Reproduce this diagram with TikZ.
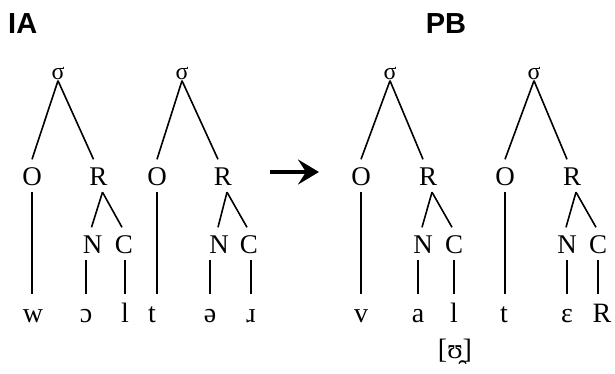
\documentclass[tikz,border=0pt]{standalone}
\usepackage{fontspec}
\setmainfont{Liberation Serif}
\newfontfamily\headfont{Liberation Sans}
\usetikzlibrary{arrows.meta}
\begin{document}
\begin{tikzpicture}[x=1pt,y=-1pt,
 inode/.style={inner xsep=1pt, inner ysep=7pt, text height=18.5pt, text depth=0pt, font=\fontsize{27}{27}\selectfont, anchor=base},
 snode/.style={inner sep=1.5pt, text depth=0pt, font=\fontsize{24}{24}\selectfont, anchor=base},
 leaf/.style={inner xsep=1pt, inner ysep=8pt, text height=20pt, text depth=0pt, font=\fontsize{28}{28}\selectfont, anchor=base},
 branch/.style={line width=1.6pt},
 head/.style={font=\headfont\bfseries\fontsize{29}{29}\selectfont, inner sep=0pt},
]
\path[use as bounding box] (0,0) rectangle (615,373);

% headings
\node[head, anchor=base west] (hIA) at (8,33) {IA};
\node[head, anchor=base] (hPB) at (446,33) {PB};

% ---------- Tree A1 ----------
\node[snode] (sA1) at (58,79) {σ};
\node[inode] (oA1) at (32,185) {O};
\node[inode] (rA1) at (98.5,185) {R};
\node[inode] (nA1) at (92.5,253) {N};
\node[inode] (cA1) at (124,253) {C};
\node[leaf] (wA1) at (33,322) {w};
\node[leaf] (xA1) at (86,322) {ɔ};
\node[leaf] (yA1) at (125,322) {l};
\draw[branch] (sA1.south) -- (oA1.north);
\draw[branch] (sA1.south) -- ([xshift=-5pt]rA1.north);
\draw[branch] ([xshift=4pt]rA1.south) -- ([xshift=-1pt]nA1.north);
\draw[branch] ([xshift=4pt]rA1.south) -- ([xshift=-2pt]cA1.north);
\draw[branch] (oA1.south) -- (oA1.south |- wA1.north);
\draw[branch] (xA1.north |- nA1.south) -- (xA1.north);
\draw[branch] (yA1.north |- cA1.south) -- (yA1.north);

% ---------- Tree A2 ----------
\node[snode] (sA2) at (182,79) {σ};
\node[inode] (oA2) at (157,185) {O};
\node[inode] (rA2) at (223,185) {R};
\node[inode] (nA2) at (219,253) {N};
\node[inode] (cA2) at (249,253) {C};
\node[leaf] (wA2) at (152,322) {t};
\node[leaf] (xA2) at (210,322) {ə};
\node[leaf] (yA2) at (251,322) {ɹ};
\draw[branch] (sA2.south) -- (oA2.north);
\draw[branch] (sA2.south) -- ([xshift=-5pt]rA2.north);
\draw[branch] ([xshift=4pt]rA2.south) -- ([xshift=-1pt]nA2.north);
\draw[branch] ([xshift=4pt]rA2.south) -- ([xshift=-2pt]cA2.north);
\draw[branch] (oA2.south) -- (oA2.south |- wA2.north);
\draw[branch] (xA2.north |- nA2.south) -- (xA2.north);
\draw[branch] (yA2.north |- cA2.south) -- (yA2.north);

% ---------- arrow ----------
\coordinate (arS) at (270,172);
\coordinate (arE) at (319,172);
\draw[line width=4pt, -{Stealth[length=21pt,width=25pt,inset=8pt]}] (arS) -- (arE);

% ---------- Tree B1 ----------
\node[snode] (sB1) at (390,79) {σ};
\node[inode] (oB1) at (361,185) {O};
\node[inode] (rB1) at (428,185) {R};
\node[inode] (nB1) at (423,253) {N};
\node[inode] (cB1) at (454,253) {C};
\node[leaf] (wB1) at (361,322) {v};
\node[leaf] (xB1) at (418,322) {a};
\node[leaf] (yB1) at (454,322) {l};
\node[leaf, anchor=base, text height=18pt, inner ysep=2pt] (uB1) at (455,358) {[ʊ̯]};
\draw[branch] (sB1.south) -- (oB1.north);
\draw[branch] (sB1.south) -- ([xshift=-5pt]rB1.north);
\draw[branch] ([xshift=4pt]rB1.south) -- ([xshift=-1pt]nB1.north);
\draw[branch] ([xshift=4pt]rB1.south) -- ([xshift=-2pt]cB1.north);
\draw[branch] (oB1.south) -- (oB1.south |- wB1.north);
\draw[branch] (xB1.north |- nB1.south) -- (xB1.north);
\draw[branch] (yB1.north |- cB1.south) -- (yB1.north);

% ---------- Tree B2 ----------
\node[snode] (sB2) at (534,79) {σ};
\node[inode] (oB2) at (505,185) {O};
\node[inode] (rB2) at (572,185) {R};
\node[inode] (nB2) at (567,253) {N};
\node[inode] (cB2) at (598,253) {C};
\node[leaf] (wB2) at (504,322) {t};
\node[leaf] (xB2) at (567,322) {ɛ};
\node[leaf] (yB2) at (602,322) {R};
\draw[branch] (sB2.south) -- (oB2.north);
\draw[branch] (sB2.south) -- ([xshift=-5pt]rB2.north);
\draw[branch] ([xshift=4pt]rB2.south) -- ([xshift=-1pt]nB2.north);
\draw[branch] ([xshift=4pt]rB2.south) -- ([xshift=-2pt]cB2.north);
\draw[branch] (oB2.south) -- (oB2.south |- wB2.north);
\draw[branch] (xB2.north |- nB2.south) -- (xB2.north);
\draw[branch] ([xshift=-4pt]yB2.north |- cB2.south) -- ([xshift=-4pt]yB2.north);
\end{tikzpicture}
\end{document}
